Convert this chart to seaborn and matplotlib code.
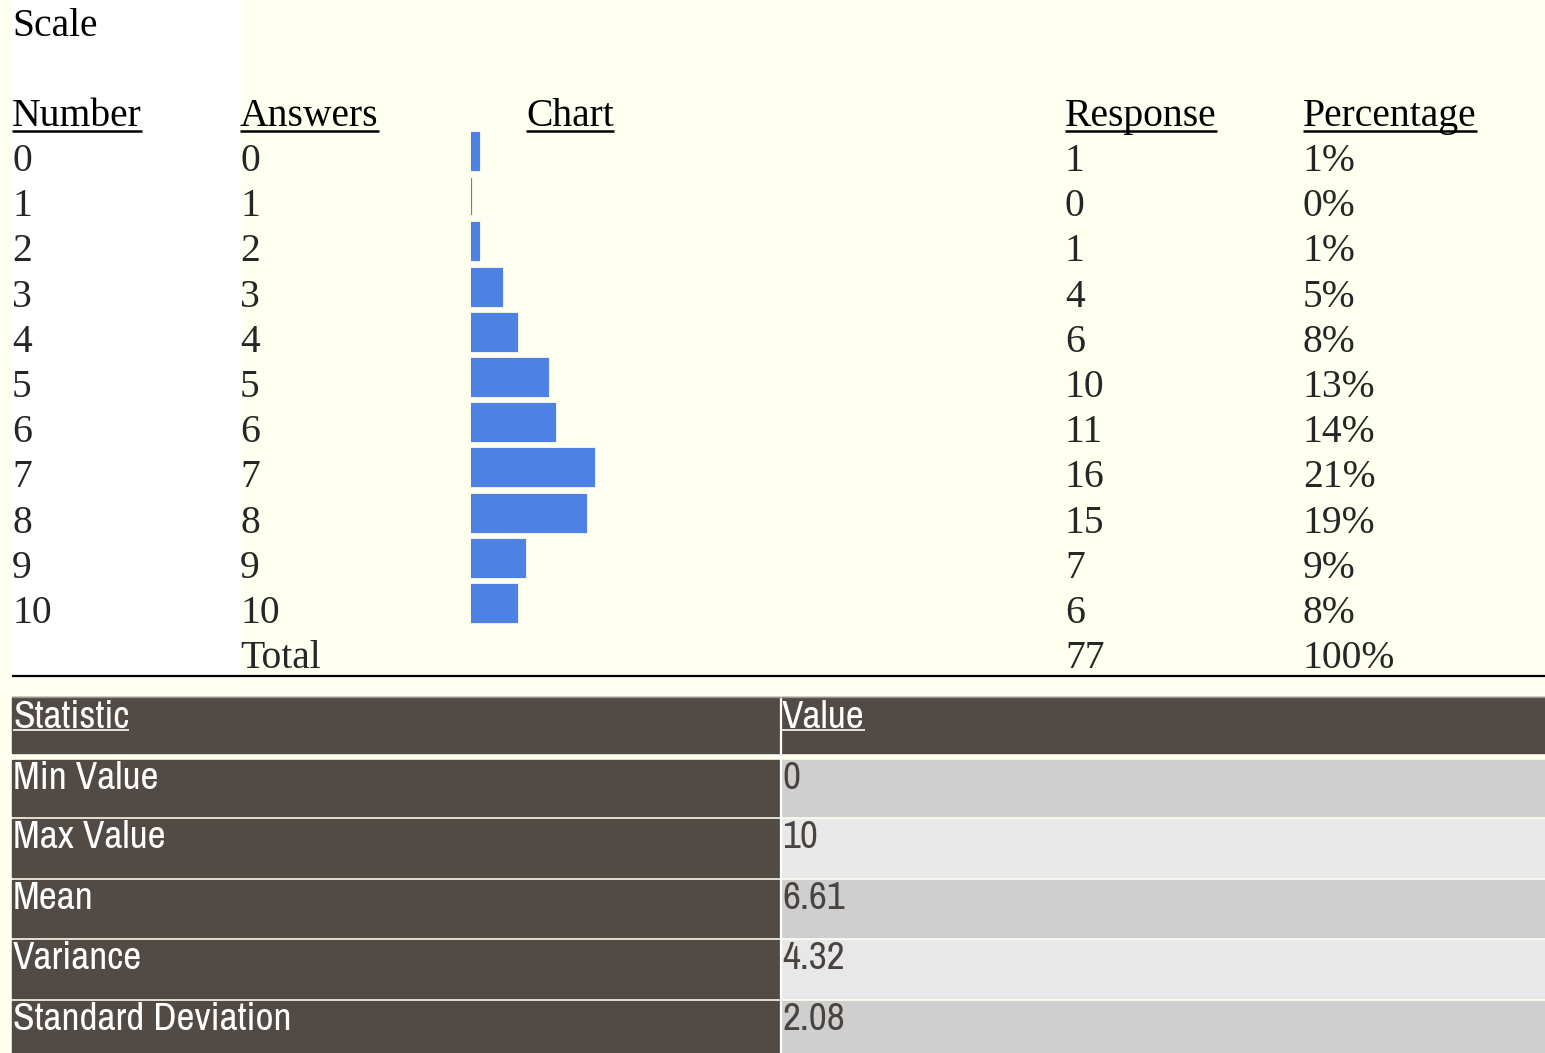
import numpy as np
import pandas as pd
import matplotlib.pyplot as plt
import seaborn as sns
from matplotlib.patches import Rectangle
from matplotlib import font_manager as fm

# survey scale question: answer number -> response count
numbers = list(range(11))
responses = [1, 0, 1, 4, 6, 10, 11, 16, 15, 7, 6]
percentages = ["1%", "0%", "1%", "5%", "8%", "13%", "14%", "21%", "19%", "9%", "8%"]
total_responses = 77
total_pct = "100%"

stat_names = ["Min Value", "Max Value", "Mean", "Variance", "Standard Deviation"]
stat_values = ["0", "10", "6.61", "4.32", "2.08"]

W, H = 1545, 1053
IVORY = "#FFFFF0"
BAR_BLUE = "#4D82E4"
DARK = "#524A45"
VAL_TXT = "#4A4441"
ROW_A = "#CFCFCF"
ROW_B = "#E8E8E8"

SERIF = ["Liberation Serif", "DejaVu Serif"]

# stats table uses a condensed sans; take one if the system has it
condensed = sorted({f.name for f in fm.fontManager.ttflist
                    if "Narrow" in f.name or "Condensed" in f.name})
if condensed:
    NARROW = [condensed[0], "DejaVu Sans"]
    SFS = 28.3
else:
    NARROW = ["Liberation Sans", "DejaVu Sans"]
    SFS = 24.5

sns.set_theme(style="white")

fig = plt.figure(figsize=(W / 100, H / 100), dpi=100, facecolor=IVORY)
bg = fig.add_axes([0, 0, 1, 1])
bg.set_xlim(0, W)
bg.set_ylim(H, 0)
bg.axis("off")
bg.set_facecolor(IVORY)

# white first column of the top table
bg.add_patch(Rectangle((12, 0), 228, 676, color="white", zorder=0))

ROW0 = 171      # baseline of first data row
STEP = 45.2
FS = 28.5

col_x = {"Number": 12, "Answers": 240, "Chart": 526, "Response": 1065, "Percentage": 1303}

bg.text(12, 36, "Scale", fontsize=FS, family=SERIF, va="baseline", color="black")

headers = []
for name, x in col_x.items():
    t = bg.text(x, 126, name, fontsize=FS, family=SERIF, va="baseline", color="black")
    headers.append(t)

for i, n in enumerate(numbers):
    y = ROW0 + i * STEP
    bg.text(col_x["Number"], y, str(n), fontsize=FS, family=SERIF, va="baseline")
    bg.text(col_x["Answers"], y, str(n), fontsize=FS, family=SERIF, va="baseline")
    bg.text(col_x["Response"], y, str(responses[i]), fontsize=FS, family=SERIF, va="baseline")
    bg.text(col_x["Percentage"], y, percentages[i], fontsize=FS, family=SERIF, va="baseline")

y_tot = ROW0 + len(numbers) * STEP
bg.text(col_x["Answers"], y_tot, "Total", fontsize=FS, family=SERIF, va="baseline")
bg.text(col_x["Response"], y_tot, str(total_responses), fontsize=FS, family=SERIF, va="baseline")
bg.text(col_x["Percentage"], y_tot, total_pct, fontsize=FS, family=SERIF, va="baseline")

bg.plot([12, W], [676, 676], color="black", lw=1.6, solid_capstyle="butt")

# stats table
tab_left, tab_mid, tab_right = 12, 780, W
rows_y = [(697, 753), (760, 816), (819, 877), (880, 937), (940, 998), (1001, 1053)]
for k, (y0, y1) in enumerate(rows_y):
    if k == 0:
        bg.add_patch(Rectangle((tab_left, y0), tab_right - tab_left, y1 - y0, color=DARK, zorder=1))
    else:
        bg.add_patch(Rectangle((tab_left, y0), tab_mid - tab_left, y1 - y0, color=DARK, zorder=1))
        bg.add_patch(Rectangle((tab_mid + 2, y0), tab_right - tab_mid - 2, y1 - y0,
                               color=ROW_A if k % 2 else ROW_B, zorder=1))
bg.plot([tab_mid + 1, tab_mid + 1], [697, 1053], color="white", lw=1.6, zorder=2)
bg.plot([tab_left, tab_right], [697, 697], color="#9A9592", lw=1, zorder=2)

stat_heads = [
    bg.text(tab_left + 1, 728, "Statistic", fontsize=SFS, family=NARROW, va="baseline", color="white", zorder=3),
    bg.text(tab_mid + 2, 728, "Value", fontsize=SFS, family=NARROW, va="baseline", color="white", zorder=3),
]
for k, (name, val) in enumerate(zip(stat_names, stat_values)):
    y = rows_y[k + 1][0] + 29
    bg.text(tab_left + 1, y, name, fontsize=SFS, family=NARROW, va="baseline", color="white", zorder=3)
    bg.text(tab_mid + 2, y, val, fontsize=SFS, family=NARROW, va="baseline", color=VAL_TXT, zorder=3)

# underline the column headings
fig.canvas.draw()
renderer = fig.canvas.get_renderer()
for t in headers:
    bb = t.get_window_extent(renderer)
    bg.plot([bb.x0, bb.x1], [131, 131], color="black", lw=1.8, solid_capstyle="butt")
for t in stat_heads:
    bb = t.get_window_extent(renderer)
    bg.plot([bb.x0, bb.x1], [730, 730], color="white", lw=1.2, solid_capstyle="butt", zorder=3)

# bar chart column: width of the column corresponds to the total responses
bar_top = ROW0 - 38 - 0.09 * STEP
bar_ax = fig.add_axes([471 / W, 1 - (bar_top + 11 * STEP) / H, 591 / W, 11 * STEP / H])
df = pd.DataFrame({"Number": [str(n) for n in numbers], "Response": responses})
sns.barplot(data=df, y="Number", x="Response", orient="h", color=BAR_BLUE, saturation=1,
            width=0.82, edgecolor=BAR_BLUE, linewidth=1.6, ax=bar_ax)
bar_ax.set_xlim(0, total_responses)
bar_ax.axis("off")
bar_ax.patch.set_alpha(0)

fig.savefig("out.png", dpi=100, facecolor=IVORY)
